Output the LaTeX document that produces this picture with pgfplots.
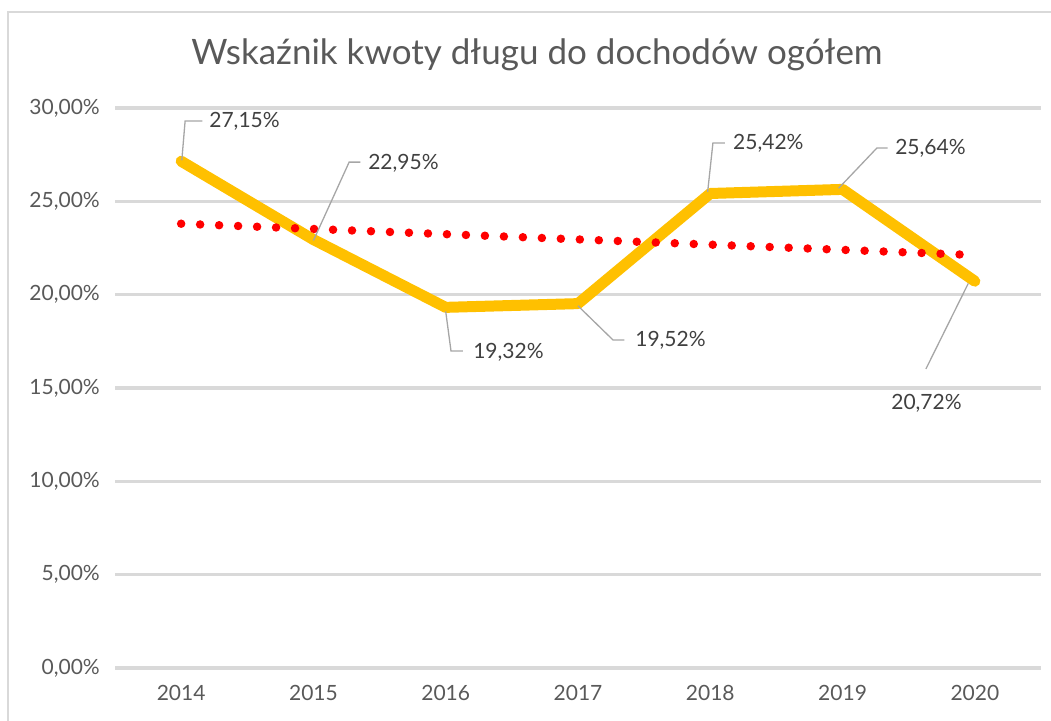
\documentclass[border=0pt]{standalone}
\usepackage{fontspec}
\setmainfont{Lato}
\usepackage{pgfplots}
\pgfplotsset{compat=1.18}
\definecolor{gold}{HTML}{FFC000}
\definecolor{trendred}{HTML}{FF0000}
\definecolor{gridgray}{HTML}{D9D9D9}
\definecolor{leadgray}{HTML}{A6A6A6}
\definecolor{tickgray}{HTML}{595959}
\definecolor{labelgray}{HTML}{404040}
\begin{document}
\begin{tikzpicture}[x=1pt,y=1pt]
\useasboundingbox (0,0) rectangle (1051,720);
\draw[gridgray, line width=1.5pt] (8,-5) -- (8,708) -- (1060,708);
\node[text=tickgray, font=\fontsize{35}{40}\selectfont] at (537,665) {Wskaźnik kwoty długu do dochodów ogółem};
\begin{axis}[
    at={(115pt,52pt)}, anchor=south west,
    scale only axis, width=926pt, height=560pt,
    xmin=-0.5, xmax=6.5, ymin=0, ymax=30,
    clip=false,
    axis line style={draw=none},
    xtick={0,...,6},
    xticklabels={2014,2015,2016,2017,2018,2019,2020},
    ytick={0,5,...,30},
    yticklabels={{0,00\%},{5,00\%},{10,00\%},{15,00\%},{20,00\%},{25,00\%},{30,00\%}},
    major tick length=0pt,
    ymajorgrids,
    grid style={gridgray, line width=3.5pt},
    tick label style={text=tickgray, font=\fontsize{21}{24}\selectfont, inner sep=0pt},
    yticklabel style={anchor=east, xshift=-15pt},
    xticklabel style={anchor=north, yshift=-17pt},
  ]
  % series
  \addplot[gold, line width=11pt, line join=round, line cap=round, mark=none] coordinates {
      (0,27.15) (1,22.95) (2,19.32) (3,19.52) (4,25.42) (5,25.64) (6,20.72)
    };
  % linear trend
  \addplot[trendred, line width=8.5pt, line cap=round, dash pattern=on 0pt off 19pt, mark=none] coordinates {
      (0,23.80) (6,22.12)
    };
  % leader lines
  \addplot[leadgray, line width=1.3pt, mark=none] coordinates {(0.005,27.2) (0.03,29.3) (0.16,29.3)};
  \addplot[leadgray, line width=1.3pt, mark=none] coordinates {(1.0,22.9) (1.27,27.1) (1.355,27.1)};
  \addplot[leadgray, line width=1.3pt, mark=none] coordinates {(2.0,19.1) (2.04,16.98) (2.13,16.98)};
  \addplot[leadgray, line width=1.3pt, mark=none] coordinates {(3.0,19.4) (3.265,17.57) (3.35,17.57)};
  \addplot[leadgray, line width=1.3pt, mark=none] coordinates {(3.98,25.5) (4.02,28.13) (4.11,28.13)};
  \addplot[leadgray, line width=1.3pt, mark=none] coordinates {(4.97,25.7) (5.26,27.86) (5.34,27.86)};
  \addplot[leadgray, line width=1.3pt, mark=none] coordinates {(5.95,20.6) (5.63,16.02)};
  % data labels
  \addplot[draw=none, mark=none, nodes near coords, point meta=explicit symbolic,
    nodes near coords style={anchor=west, inner sep=0pt, text=labelgray, font=\fontsize{21}{24}\selectfont}]
    coordinates {
      (0.212,29.27) [27,15\%]
      (1.413,27.05) [22,95\%]
      (2.207,16.93) [19,32\%]
      (3.432,17.57) [19,52\%]
      (4.172,28.13) [25,42\%]
      (5.397,27.86) [25,64\%]
      (5.367,14.20) [20,72\%]
    };
\end{axis}
\end{tikzpicture}
\end{document}
